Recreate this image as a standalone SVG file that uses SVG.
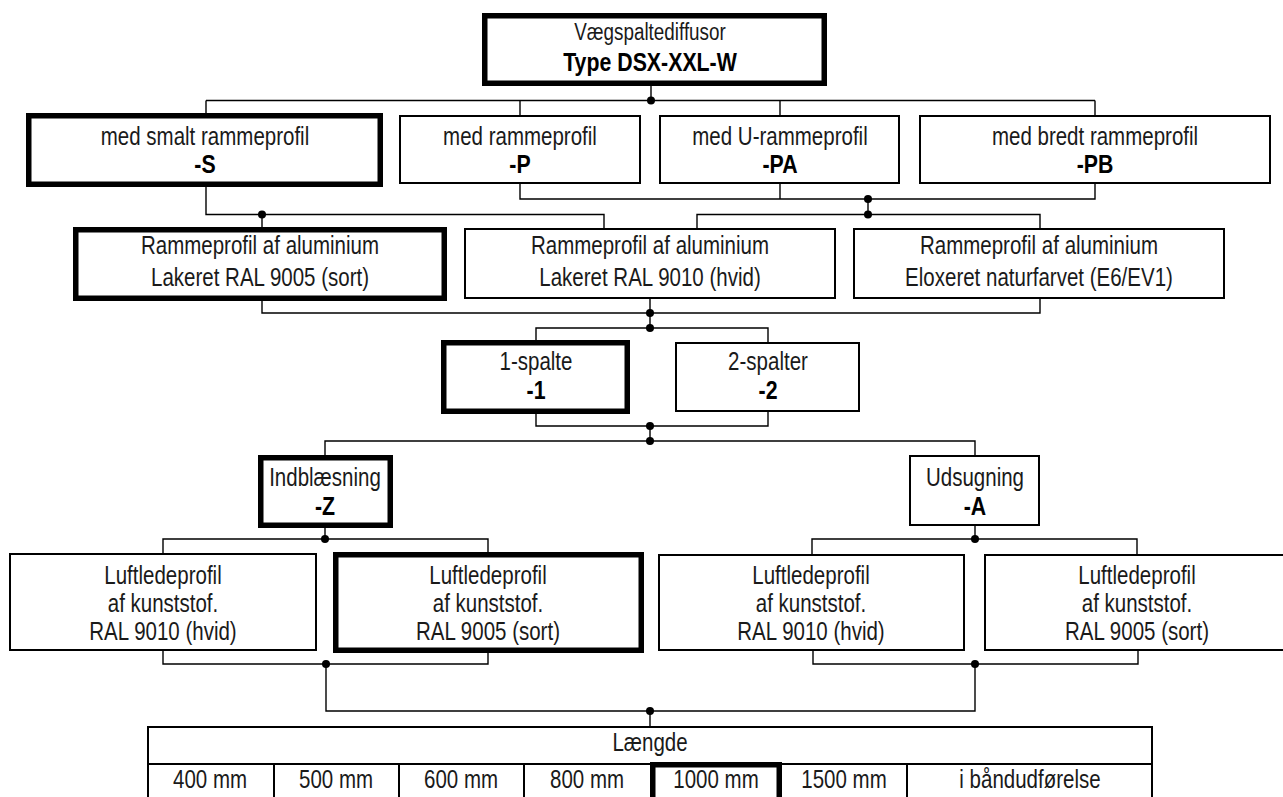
<svg xmlns="http://www.w3.org/2000/svg" width="1283" height="797" viewBox="0 0 1283 797">
<style>
.thin{fill:#fff;stroke:#000;stroke-width:2}
.thick{fill:#fff;stroke:#000;stroke-width:5.5}
.cn{fill:none;stroke:#000;stroke-width:1.4}
.dot{fill:#000}
text{font-family:"Liberation Sans",Arial,sans-serif;font-size:25px;fill:#1a1a1a;text-anchor:middle}
.b{font-weight:bold;font-size:26px;fill:#000}
.t{font-size:23px}
</style>
<rect width="1283" height="797" fill="#fff"/>
<g id="connectors">
<path class="cn" d="M651 86V100.5M206 100.5H1095M206 100.5V113M520 100.5V115M780 100.5V115M1095 100.5V115"/>
<path class="cn" d="M206 187V214.5H604V228M262 214.5V227"/>
<path class="cn" d="M520 184V199H1095V184M780 184V199M868 199V214.5M697 228V214.5H1040V229"/>
<path class="cn" d="M262 301V313H1040V299M650 299V328M536 340V328H768V342"/>
<path class="cn" d="M536 414V426H768V412M650 426V441M325 455V441H975V455"/>
<path class="cn" d="M325 528V539M163 554V539H488V552M975 526V539M812 555V539H1137V555"/>
<path class="cn" d="M163 651V664H488V653M326 664V711H975V664M813 651V664H1138V651M650 711V726"/>
<circle class="dot" cx="651" cy="100.5" r="4"/>
<circle class="dot" cx="262" cy="214.5" r="4"/>
<circle class="dot" cx="868" cy="199" r="4"/>
<circle class="dot" cx="868" cy="214.5" r="4"/>
<circle class="dot" cx="650" cy="313" r="4"/>
<circle class="dot" cx="650" cy="328" r="4"/>
<circle class="dot" cx="650" cy="426" r="4"/>
<circle class="dot" cx="650" cy="441" r="4"/>
<circle class="dot" cx="325" cy="539" r="4"/>
<circle class="dot" cx="975" cy="539" r="4"/>
<circle class="dot" cx="326" cy="664" r="4"/>
<circle class="dot" cx="975" cy="664" r="4"/>
<circle class="dot" cx="650" cy="711" r="4"/>
</g>
<g id="root">
<rect class="thick" x="484.75" y="15.75" width="339.5" height="67.5"/>
<text class="t" transform="translate(650 0) scale(.82 1)" y="40">Vægspaltediffusor</text>
<text class="b" transform="translate(650 0) scale(.82 1)" y="71">Type DSX-XXL-W</text>
</g>
<g id="n-S">
<rect class="thick" x="28.75" y="115.75" width="351.5" height="68.5"/>
<text transform="translate(205 0) scale(.82 1)" y="145">med smalt rammeprofil</text>
<text class="b" transform="translate(205 0) scale(.82 1)" y="173">-S</text>
</g>
<g id="n-P">
<rect class="thin" x="400" y="116" width="240" height="67"/>
<text transform="translate(520 0) scale(.82 1)" y="145">med rammeprofil</text>
<text class="b" transform="translate(520 0) scale(.82 1)" y="173">-P</text>
</g>
<g id="n-PA">
<rect class="thin" x="660" y="116" width="239" height="67"/>
<text transform="translate(780 0) scale(.82 1)" y="145">med U-rammeprofil</text>
<text class="b" transform="translate(780 0) scale(.82 1)" y="173">-PA</text>
</g>
<g id="n-PB">
<rect class="thin" x="920" y="116" width="350" height="67"/>
<text transform="translate(1095 0) scale(.82 1)" y="145">med bredt rammeprofil</text>
<text class="b" transform="translate(1095 0) scale(.82 1)" y="173">-PB</text>
</g>
<g id="n-ral9005">
<rect class="thick" x="75.75" y="229.75" width="368.5" height="68.5"/>
<text transform="translate(260 0) scale(.82 1)" y="254">Rammeprofil af aluminium</text>
<text transform="translate(260 0) scale(.82 1)" y="286">Lakeret RAL 9005 (sort)</text>
</g>
<g id="n-ral9010">
<rect class="thin" x="465" y="229" width="370" height="69"/>
<text transform="translate(650 0) scale(.82 1)" y="254">Rammeprofil af aluminium</text>
<text transform="translate(650 0) scale(.82 1)" y="286">Lakeret RAL 9010 (hvid)</text>
</g>
<g id="n-eloxeret">
<rect class="thin" x="854" y="229" width="370" height="69"/>
<text transform="translate(1039 0) scale(.82 1)" y="254">Rammeprofil af aluminium</text>
<text transform="translate(1039 0) scale(.82 1)" y="286">Eloxeret naturfarvet (E6/EV1)</text>
</g>
<g id="n-1">
<rect class="thick" x="443.75" y="342.75" width="183.5" height="68.5"/>
<text transform="translate(536 0) scale(.82 1)" y="370">1-spalte</text>
<text class="b" transform="translate(536 0) scale(.82 1)" y="399">-1</text>
</g>
<g id="n-2">
<rect class="thin" x="676" y="343" width="183" height="68"/>
<text transform="translate(768 0) scale(.82 1)" y="370">2-spalter</text>
<text class="b" transform="translate(768 0) scale(.82 1)" y="399">-2</text>
</g>
<g id="n-Z">
<rect class="thick" x="260.75" y="457.75" width="129.5" height="67.5"/>
<text transform="translate(325 0) scale(.82 1)" y="486">Indblæsning</text>
<text class="b" transform="translate(325 0) scale(.82 1)" y="515">-Z</text>
</g>
<g id="n-A">
<rect class="thin" x="910" y="456" width="129" height="69"/>
<text transform="translate(975 0) scale(.82 1)" y="486">Udsugning</text>
<text class="b" transform="translate(975 0) scale(.82 1)" y="515">-A</text>
</g>
<g id="n-Z-hvid">
<rect class="thin" x="10" y="554" width="306" height="96"/>
<text transform="translate(163 0) scale(.82 1)" y="584">Luftledeprofil</text>
<text transform="translate(163 0) scale(.82 1)" y="612">af kunststof.</text>
<text transform="translate(163 0) scale(.82 1)" y="640">RAL 9010 (hvid)</text>
</g>
<g id="n-Z-sort">
<rect class="thick" x="335.75" y="554.75" width="305.5" height="95.5"/>
<text transform="translate(488 0) scale(.82 1)" y="584">Luftledeprofil</text>
<text transform="translate(488 0) scale(.82 1)" y="612">af kunststof.</text>
<text transform="translate(488 0) scale(.82 1)" y="640">RAL 9005 (sort)</text>
</g>
<g id="n-A-hvid">
<rect class="thin" x="659" y="555" width="305" height="95"/>
<text transform="translate(811 0) scale(.82 1)" y="584">Luftledeprofil</text>
<text transform="translate(811 0) scale(.82 1)" y="612">af kunststof.</text>
<text transform="translate(811 0) scale(.82 1)" y="640">RAL 9010 (hvid)</text>
</g>
<g id="n-A-sort">
<rect class="thin" x="985" y="555" width="305" height="95"/>
<text transform="translate(1137 0) scale(.82 1)" y="584">Luftledeprofil</text>
<text transform="translate(1137 0) scale(.82 1)" y="612">af kunststof.</text>
<text transform="translate(1137 0) scale(.82 1)" y="640">RAL 9005 (sort)</text>
</g>
<g id="n-laengde">
<rect class="thin" x="148" y="727" width="1004" height="90"/>
<path class="cn" d="M148 764H1152" style="stroke-width:2"/>
<path class="cn" d="M274 764V797M399 764V797M524 764V797M907 764V797" style="stroke-width:2"/>
<rect class="thick" x="652.75" y="764.75" width="126.5" height="50"/>
<text transform="translate(650 0) scale(.82 1)" y="751">Længde</text>
<text transform="translate(210 0) scale(.82 1)" y="788">400 mm</text>
<text transform="translate(336 0) scale(.82 1)" y="788">500 mm</text>
<text transform="translate(461 0) scale(.82 1)" y="788">600 mm</text>
<text transform="translate(587 0) scale(.82 1)" y="788">800 mm</text>
<text transform="translate(716 0) scale(.82 1)" y="788">1000 mm</text>
<text transform="translate(844 0) scale(.82 1)" y="788">1500 mm</text>
<text transform="translate(1030 0) scale(.82 1)" y="788">i båndudførelse</text>
</g>
</svg>
